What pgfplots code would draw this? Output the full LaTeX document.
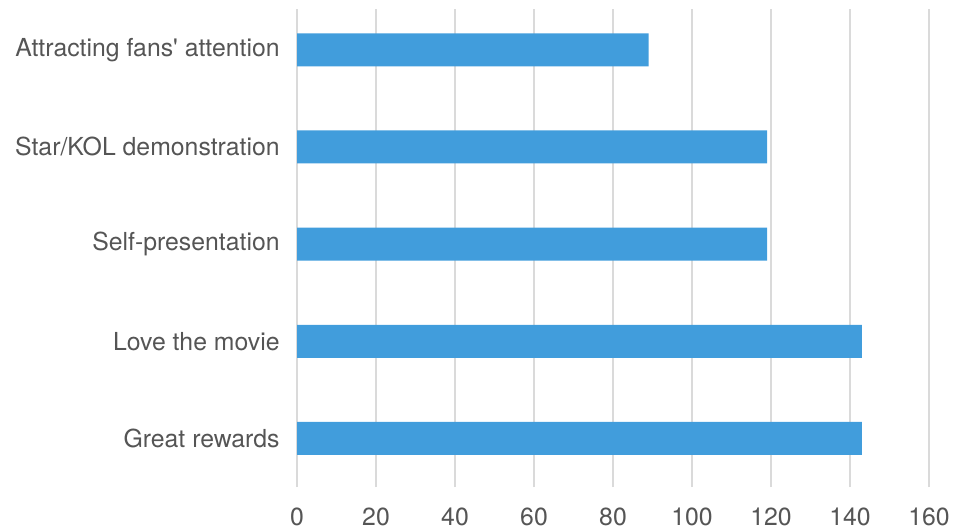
\documentclass[border=0pt]{standalone}
\usepackage{pgfplots}
\pgfplotsset{compat=1.18}
\usepackage{fontspec}
\setmainfont{TeX Gyre Heros}
\definecolor{barblue}{HTML}{419DDC}
\definecolor{gridgray}{HTML}{DADADA}
\definecolor{txt}{HTML}{555555}
\begin{document}
\begin{tikzpicture}
\begin{axis}[name=ax,
  width=316pt, height=239pt, scale only axis,
  xbar,
  xmin=0, xmax=160, xtick={0,20,...,160},
  ymin=-0.5, ymax=4.42,
  ytick={0,1,2,3,4},
  yticklabels={Great rewards, Love the movie, Self-presentation, Star/KOL demonstration, Attracting fans\textquotesingle{} attention},
  bar width=16.5pt,
  axis line style={draw=none},
  major tick length=0pt,
  xmajorgrids,
  grid style={gridgray, line width=0.8pt},
  /pgf/number format/assume math mode=true,
  tick label style={font=\fontsize{12.4}{14}\selectfont, text=txt},
  yticklabel style={inner sep=0pt, xshift=-8.5pt},
  xticklabel style={inner sep=0pt, yshift=-10.5pt},
]
\addplot[fill=barblue, draw=none] coordinates {(143,0) (143,1) (119,2) (119,3) (89,4)};
\end{axis}
\pgfresetboundingbox
\path ([xshift=-148.5pt,yshift=-22pt]ax.south west) rectangle ([xshift=13.5pt,yshift=4.5pt]ax.north east);
\end{tikzpicture}
\end{document}
